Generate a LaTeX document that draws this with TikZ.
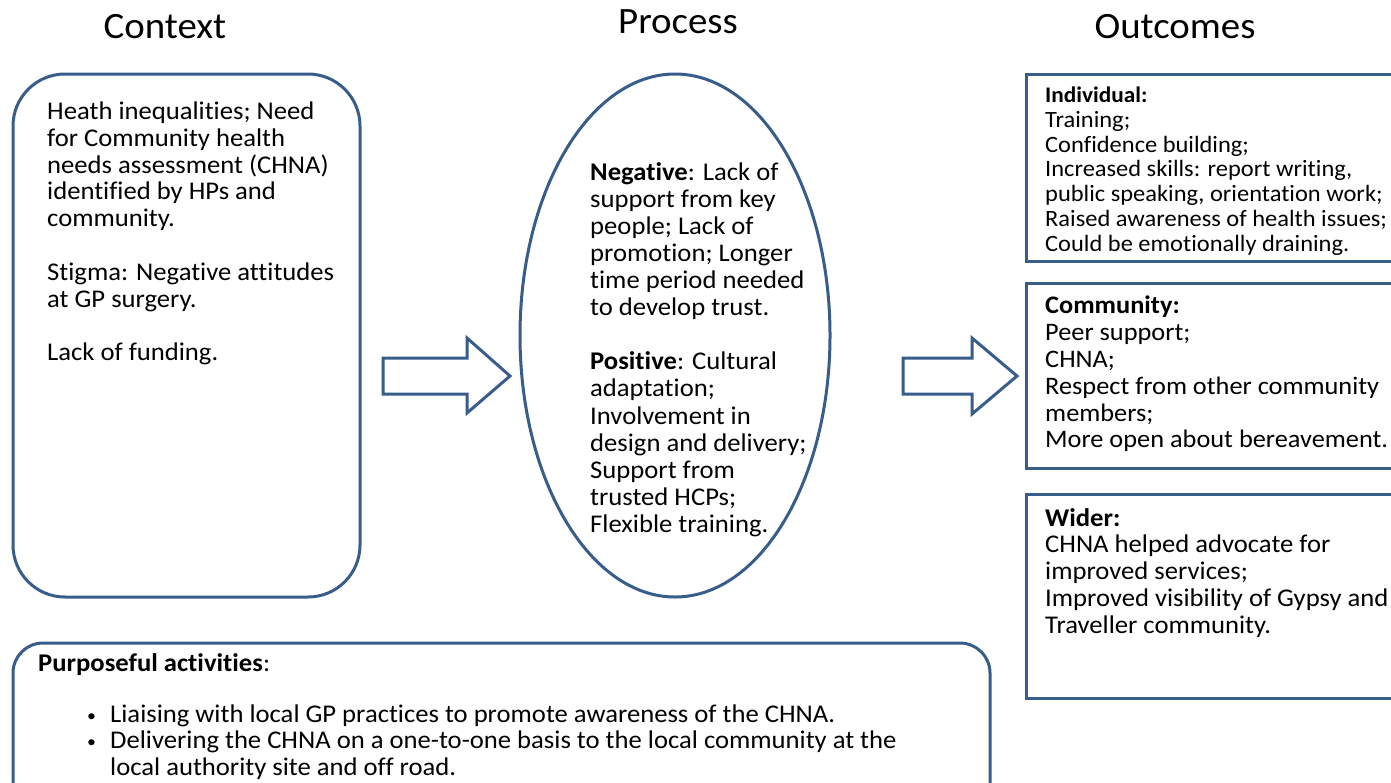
\documentclass[tikz,border=0pt]{standalone}
\usepackage{fontspec}
\setmainfont{Carlito}[FakeStretch=1.045, Ligatures={NoCommon,NoContextual}, Contextuals=NoAlternate]
\usetikzlibrary{shapes.geometric}
\definecolor{edge}{RGB}{56,93,138}
\newcommand{\smallbullet}{\makebox[23pt][l]{\raisebox{1.5pt}{\fontsize{17}{17}\selectfont •}}}
\begin{document}
\begin{tikzpicture}[x=1pt,y=-1pt,
  shapeline/.style={draw=edge, line width=3pt},
  heading/.style={anchor=base, inner sep=0pt, font=\fontsize{37.2}{40}\selectfont},
  body/.style={anchor=north west, inner sep=0pt, align=left, font=\fontsize{25.5}{26.8}\selectfont},
  small/.style={anchor=north west, inner sep=0pt, align=left, font=\fontsize{23.4}{24.7}\selectfont},
  blockarrow/.style={draw=edge, line width=3pt, line join=miter, fill=white}
]
\useasboundingbox (0,0) rectangle (1391,782);
\fill[white] (0,0) rectangle (1391,782);

% headings
\node[heading] (hctx) at (165,38) {Context};
\node[heading] (hproc) at (678,33) {Process};
\node[heading] (hout) at (1175,38) {Outcomes};

% context box
\node[shapeline, rectangle, rounded corners=52pt, minimum width=347pt, minimum height=523pt] (ctx) at (186.5,335.5) {};
\node[body] (ctxtext) at (47,101.5) {Heath inequalities; Need\\for Community health\\needs assessment (CHNA)\\identified by HPs and\\community.\\[26.8pt]Stigma: Negative attitudes\\at GP surgery.\\[26.8pt]Lack of funding.};

% process ellipse
\node[shapeline, ellipse, minimum width=310pt, minimum height=523pt, inner sep=0pt] (proc) at (675,335.5) {};
\node[body, font=\fontsize{25.5}{27.1}\selectfont] (proctext) at (590,162) {\textbf{Negative}: Lack of\\support from key\\people; Lack of\\promotion; Longer\\time period needed\\to develop trust.\\[27.1pt]\textbf{Positive}: Cultural\\adaptation;\\Involvement in\\design and delivery;\\Support from\\trusted HCPs;\\Flexible training.};

% block arrows
\draw[blockarrow] (383,358) -- (467,358) -- (467,338) -- (510,376) -- (467,413) -- (467,394) -- (383,394) -- cycle;
\draw[blockarrow] (903,358) -- (972,358) -- (972,338) -- (1017,376) -- (972,414) -- (972,394) -- (903,394) -- cycle;

% outcome boxes
\node[shapeline, rectangle, minimum width=369pt, minimum height=187pt] (indiv) at (1210.5,167.5) {};
\node[small] (indivtext) at (1045,87) {{\fontsize{22.3}{24.7}\selectfont\textbf{Individual:}}\\Training;\\Confidence building;\\Increased skills: report writing,\\public speaking, orientation work;\\Raised awareness of health issues;\\Could be emotionally draining.};

\node[shapeline, rectangle, minimum width=369pt, minimum height=185pt] (comm) at (1210.5,375.5) {};
\node[body, font=\fontsize{25.2}{26.8}\selectfont] (commtext) at (1045,296) {\textbf{Community:}\\Peer support;\\CHNA;\\Respect from other community\\members;\\More open about bereavement.};

\node[shapeline, rectangle, minimum width=369pt, minimum height=204pt] (wider) at (1210.5,596) {};
\node[body] (widertext) at (1045,508) {\textbf{Wider:}\\CHNA helped advocate for\\improved services;\\Improved visibility of Gypsy and\\Traveller community.};

% purposeful activities box
\node[shapeline, rectangle, rounded corners=30pt, minimum width=977pt, minimum height=170pt] (act) at (501.5,728) {};
\node[body, font=\fontsize{25.5}{26.4}\selectfont] (acttext) at (38,653) {\textbf{Purposeful activities}:\\[25pt]
\hspace*{49pt}\smallbullet Liaising with local GP practices to promote awareness of the CHNA.\\
\hspace*{49pt}\smallbullet Delivering the CHNA on a one-to-one basis to the local community at the\\
\hspace*{72pt}local authority site and off road.};
\end{tikzpicture}
\end{document}
